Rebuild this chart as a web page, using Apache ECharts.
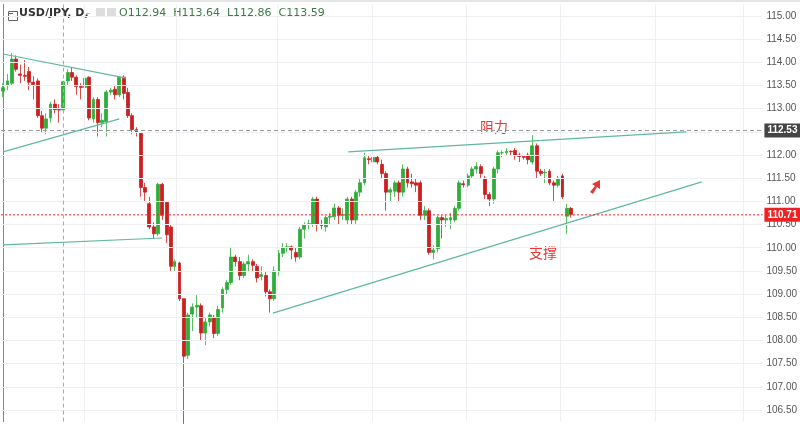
<!DOCTYPE html>
<html lang="zh">
<head>
    <meta charset="UTF-8">
    <title>USD/JPY</title>
    <script src="https://cdn.jsdelivr.net/npm/echarts@6/dist/echarts.min.js"></script>
    <style>html,body{margin:0;padding:0;background:#fff}</style>
</head>
<body>
<div id="ChartId" style="width:800px;height:429px"></div>
<script>
    // candles: [open, close, low, high]
    var candles = [
        [113.38,113.45,113.25,113.55],[113.5,113.6,113.4,113.75],[113.55,114.07,113.5,114.2],[114.07,113.85,113.8,114.15],
        [113.75,113.72,113.55,113.95],[113.72,113.7,113.6,114.05],[113.8,113.57,113.4,113.9],[113.57,113.52,113.2,113.7],
        [113.6,112.85,112.8,113.65],[112.85,112.58,112.5,112.95],[112.58,112.78,112.45,112.9],[112.8,113.1,112.7,113.15],
        [113.1,112.98,112.9,113.2],[112.98,112.97,112.7,113.1],[112.97,113.58,112.9,113.6],[113.6,113.78,113.5,113.85],
        [113.78,113.68,113.6,113.9],[113.68,113.48,113.3,113.72],[113.48,113.46,113.2,113.55],[113.46,113.66,113.4,113.7],
        [113.68,112.8,112.75,113.7],[112.78,113.2,112.7,113.25],[113.2,112.7,112.4,113.25],[112.7,112.75,112.6,112.9],
        [112.72,113.36,112.4,113.4],[113.36,113.4,113.3,113.45],[113.42,113.3,113.2,113.5],[113.3,113.68,113.25,113.7],
        [113.68,113.33,113.2,113.72],[113.35,112.85,112.8,113.45],[112.85,112.55,112.45,112.9],[112.55,112.5,112.4,112.6],
        [112.47,111.3,111.1,112.5],[111.3,111.2,111.0,111.4],[110.95,110.45,110.4,111.1],[110.45,110.3,110.2,110.55],
        [110.3,111.37,110.25,111.4],[111.37,110.7,110.6,111.4],[110.98,110.28,110.1,111.0],[110.45,109.6,109.5,110.5],
        [109.6,109.7,109.5,109.75],[109.67,108.9,108.85,109.7],[108.9,107.66,106.2,108.9],[107.68,108.55,107.6,108.6],
        [108.57,108.72,108.2,108.8],[108.72,108.76,108.5,109.0],[108.75,108.16,108.0,108.8],[108.16,108.4,107.9,108.5],
        [108.4,108.55,108.3,108.6],[108.5,108.15,108.05,108.55],[108.15,108.67,108.1,108.75],[108.7,109.1,108.6,109.15],
        [109.1,109.25,109.0,109.3],[109.25,109.8,109.2,110.0],[109.8,109.7,109.6,109.85],[109.7,109.4,109.3,109.8],
        [109.4,109.65,109.35,109.7],[109.65,109.7,109.5,109.85],[109.7,109.62,109.5,109.75],[109.6,109.35,109.25,109.65],
        [109.38,109.42,109.3,109.6],[109.4,109.05,108.95,109.5],[109.05,108.9,108.6,109.1],[108.9,109.5,108.85,109.6],
        [109.5,109.88,109.4,109.95],[109.88,110.0,109.8,110.1],[110.0,110.02,109.9,110.1],[110.02,109.95,109.75,110.05],
        [109.9,109.8,109.7,110.0],[109.8,110.4,109.75,110.45],[110.4,110.5,110.2,110.55],[110.5,110.52,110.4,110.6],
        [110.5,111.05,110.45,111.1],[111.05,110.5,110.35,111.1],[110.5,110.48,110.4,110.6],[110.45,110.65,110.35,110.7],
        [110.66,110.68,110.5,110.75],[110.67,110.86,110.6,110.95],[110.86,110.7,110.5,110.9],[110.7,110.72,110.6,110.85],
        [110.6,111.05,110.5,111.1],[111.05,110.6,110.5,111.1],[110.6,111.2,110.5,111.25],[111.2,111.4,111.1,111.5],
        [111.4,111.94,111.35,112.05],[111.92,111.9,111.8,112.0],[111.85,111.95,111.8,112.05],[111.95,111.85,111.8,112.0],
        [111.8,111.6,111.5,111.9],[111.6,111.2,110.8,111.65],[111.2,111.25,111.0,111.3],[111.22,111.4,111.1,111.45],
        [111.4,111.2,111.0,111.45],[111.2,111.7,111.1,111.8],[111.7,111.4,111.3,111.75],[111.42,111.38,111.3,111.6],
        [111.4,111.35,111.2,111.5],[111.4,110.7,110.6,111.45],[110.7,110.8,110.6,110.9],[110.8,109.9,109.85,110.85],
        [109.9,109.95,109.75,110.05],[109.98,110.65,109.9,110.7],[110.65,110.6,110.2,110.7],[110.6,110.63,110.45,110.7],
        [110.6,110.65,110.4,110.75],[110.6,110.85,110.55,110.9],[110.85,111.4,110.8,111.45],[111.38,111.36,111.3,111.45],
        [111.35,111.55,111.3,111.6],[111.55,111.7,111.5,111.75],[111.7,111.75,111.6,111.85],[111.75,111.6,111.5,111.8],
        [111.5,111.15,111.05,111.55],[111.15,111.05,110.9,111.2],[111.05,111.7,110.95,111.75],[111.7,112.05,111.6,112.1],
        [112.05,112.05,111.95,112.1],[112.05,112.08,112.0,112.15],[112.08,112.07,112.0,112.1],[112.1,112.0,111.9,112.15],
        [112.0,111.97,111.85,112.05],[111.97,111.95,111.9,112.0],[112.0,111.9,111.8,112.05],[111.85,112.2,111.8,112.43],
        [112.2,111.65,111.5,112.25],[111.65,111.6,111.55,111.7],[111.62,111.63,111.4,111.7],[111.65,111.4,111.35,111.7],
        [111.4,111.35,111.0,111.45],[111.35,111.5,111.3,111.55],[111.55,111.1,111.05,111.6],[110.68,110.85,110.3,110.95],
        [110.85,110.72,110.65,110.88]
    ];
    var totalSlots = 177;
    var yRange = {min: 106.25, max: 115.25, interval: 0.25};
    var yTickLabels = ['106.50','107.00','107.50','108.00','108.50','109.00','109.50','110.00','110.50',
        '111.00','111.50','112.00','112.50','113.00','113.50','114.00','114.50','115.00'];
    var resistancePrice = 112.53;
    var lastPrice = 110.71;
    // trend lines: [[slotIndex, price], [slotIndex, price]]
    var trendLines = [
        [[0, 114.18], [28.6, 113.66]],
        [[0, 112.07], [27.0, 112.78]],
        [[0, 110.06], [36.9, 110.21]],
        [[80.2, 112.07], [158.8, 112.5]],
        [[62.7, 108.59], [162.4, 111.42]]
    ];
    var vGridSlots = [18.9, 40.3, 63.8, 85.7, 107.6, 129.5, 151.6, 172.1];
    var crosshairSlot = 14.05;
    var header = {name: 'USD/JPY, D,', ohlc: 'O112.94  H113.64  L112.86  C113.59'};

    var cats = [];
    for (var i = 0; i < totalSlots; i++) { cats.push(i); }

    var myChart = echarts.init(document.getElementById('ChartId'));
    var px = 46.35;   // pixels per yen, 115.00 sits at y=16
    var gridLine = {color: '#eef0f3', type: 'solid', width: 1};
    var series = [
        {
            type: 'candlestick',
            xAxisIndex: 0,
            data: candles,
            barWidth: 3.4,
            z: 4,
            itemStyle: {
                color: '#2fae3a', color0: '#cc1f1f',
                borderColor: '#2fae3a', borderColor0: '#cc1f1f', borderWidth: 0.8
            }
        },
        {
            type: 'line', xAxisIndex: 1, data: [], silent: true, z: 1,
            markLine: {
                symbol: 'none', silent: true, animation: false, label: {show: false},
                data: vGridSlots.map(function (s) { return {xAxis: s, lineStyle: gridLine}; })
                    .concat(yTickLabels.map(function (t) { return {yAxis: +t, lineStyle: gridLine}; }))
                    .concat([{xAxis: crosshairSlot, lineStyle: {color: '#aaa', type: [4, 3], width: 1}}])
            }
        },
        {
            type: 'line', xAxisIndex: 1, data: [], silent: true, z: 6,
            markLine: {
                symbol: 'none', silent: true, animation: false,
                data: [
                    {yAxis: resistancePrice, lineStyle: {color: '#999', type: [4, 3], width: 1},
                        label: {show: true, position: 'end', formatter: '112.53', color: '#fff', backgroundColor: '#444',
                            padding: [2, 3], fontSize: 10, fontWeight: 'bold', distance: 2}}
                ]
            }
        },
        {
            type: 'line', xAxisIndex: 1, silent: true, z: 6, symbol: 'none',
            data: [[-0.5, lastPrice], [totalSlots - 0.5, lastPrice]],
            lineStyle: {color: '#ff2020', type: [2, 2], width: 1},
            endLabel: {show: true, formatter: '110.71', color: '#fff', backgroundColor: '#ee2222',
                padding: [2, 3], fontSize: 10, fontWeight: 'bold', distance: 2}
        }
    ];
    trendLines.forEach(function (l) {
        series.push({
            type: 'line', xAxisIndex: 1, data: l, symbol: 'none', silent: true,
            lineStyle: {color: '#5fb8a2', width: 1.2}, z: 5
        });
    });

    var option = {
        animation: false,
        grid: {left: 1, right: 31, top: 16 - (yRange.max - 115) * px, bottom: 429 - (16 + (115 - yRange.min) * px)},
        xAxis: [
            {type: 'category', data: cats, boundaryGap: true, show: false},
            {type: 'value', min: -0.5, max: totalSlots - 0.5, show: false}
        ],
        yAxis: {
            type: 'value', position: 'right', min: yRange.min, max: yRange.max, interval: yRange.interval,
            axisLine: {show: true, lineStyle: {color: '#888'}},
            axisTick: {show: false},
            axisLabel: {color: '#555', fontSize: 10, margin: 4, fontFamily: 'Arial', showMinLabel: true, showMaxLabel: true,
                formatter: function (v) { var s = v.toFixed(2); return yTickLabels.indexOf(s) >= 0 ? s : ''; }},
            splitLine: {show: false}
        },
        series: series,
        graphic: [
            {type: 'rect', left: 0, top: 0, shape: {width: 800, height: 2}, style: {fill: '#e6e6e6'}},
            {type: 'rect', left: 6, top: 9, shape: {width: 9, height: 9}, style: {fill: 'none', stroke: '#666', lineWidth: 1}},
            {type: 'rect', left: 8, top: 13, shape: {width: 5, height: 1}, style: {fill: '#666'}},
            {type: 'text', left: 19, top: 8, style: {text: header.name, fill: '#333', font: 'bold 11px "DejaVu Sans"'}},
            {type: 'rect', left: 86, top: 13, shape: {width: 4, height: 1}, style: {fill: '#bbb'}},
            {type: 'rect', left: 96, top: 8, shape: {width: 9, height: 9}, style: {fill: '#ddd'}},
            {type: 'rect', left: 107, top: 8, shape: {width: 9, height: 9}, style: {fill: '#ddd'}},
            {type: 'text', left: 119, top: 8, style: {text: header.ohlc, fill: '#3e7a46', font: '11px "DejaVu Sans"'}},
            {type: 'text', left: 480, top: 120, style: {text: '阻力', fill: '#e53935', font: '14px "Noto Sans CJK SC"'}},
            {type: 'text', left: 529, top: 246, style: {text: '支撑', fill: '#e53935', font: '14px "Noto Sans CJK SC"'}},
            {type: 'polygon', shape: {points: [[590, 192], [595, 186], [592, 184], [600, 180], [600, 189], [597, 187], [593, 194]]},
                style: {fill: '#e53935'}}
        ]
    };
    myChart.setOption(option, true);
</script>
</body>
</html>
